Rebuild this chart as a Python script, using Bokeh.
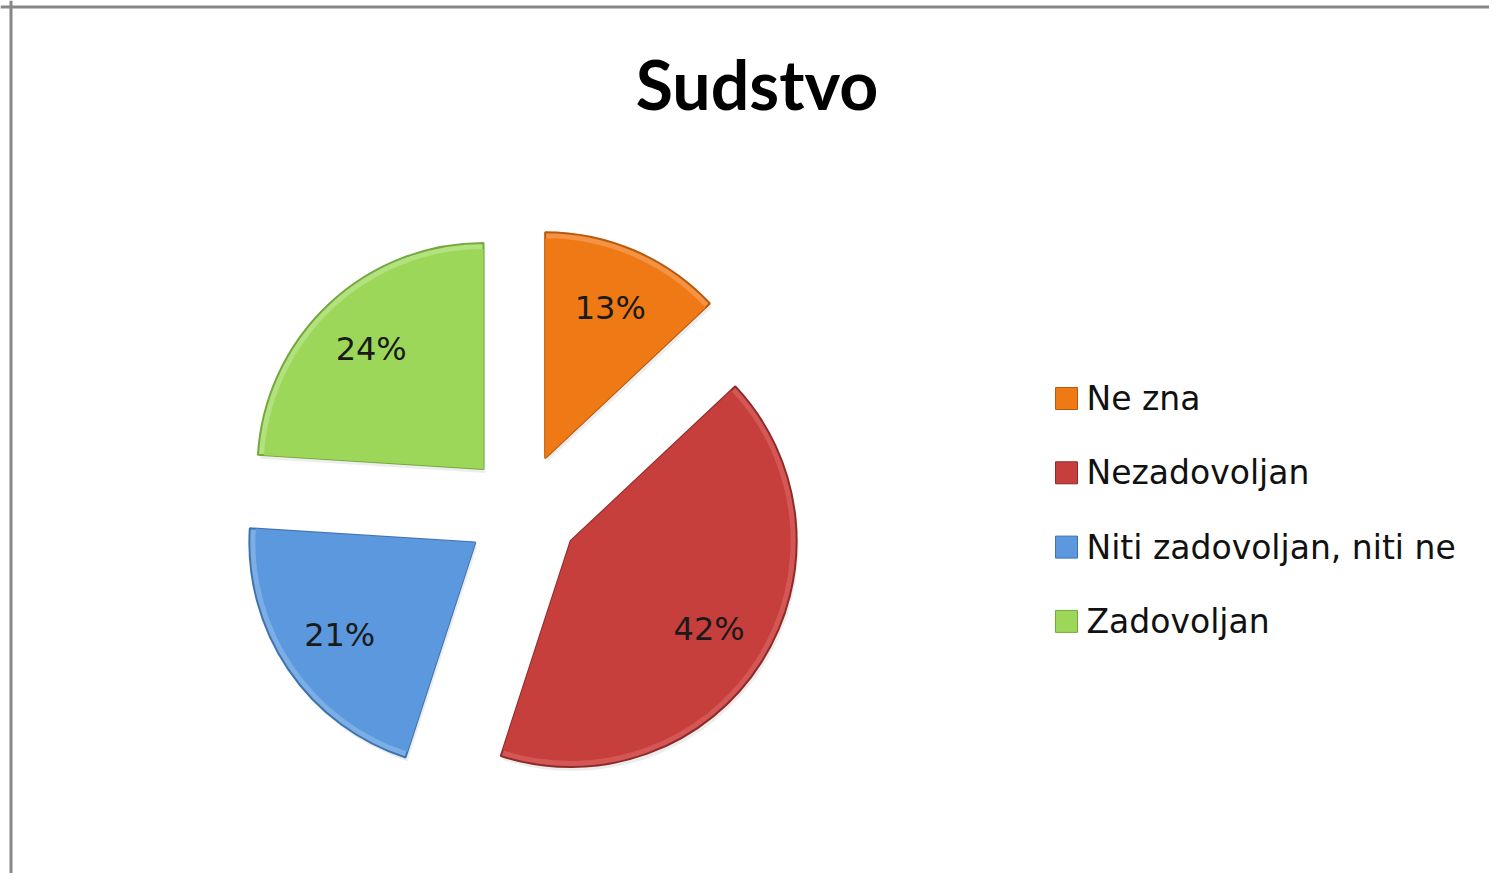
import numpy as np
from bokeh.plotting import figure
from bokeh.models import Range1d, Span, ColumnDataSource
from bokeh.core.properties import value
from bokeh.embed import file_html
from bokeh.resources import INLINE

# ---- data ----
title_text = "Sudstvo"
categories = ["Ne zna", "Nezadovoljan", "Niti zadovoljan, niti ne", "Zadovoljan"]
values = [13, 42, 21, 24]
colors = ["#EF7915", "#C63F3C", "#5B98DD", "#9DD75A"]
edge_colors = ["#B85A0C", "#8E2B29", "#3E73B0", "#72A83C"]
light_colors = ["#F59243", "#D55755", "#7CAEE6", "#B2E17D"]

# ---- layout ----
W, H = 1489, 873
p = figure(width=W, height=H, output_backend="svg", toolbar_location=None,
           x_range=Range1d(0, W), y_range=Range1d(0, H),
           x_axis_type=None, y_axis_type=None, min_border=0)
p.grid.visible = False
p.outline_line_color = None
p.background_fill_color = "white"
p.border_fill_color = "white"

# frame lines (top / left of the chart area)
p.add_layout(Span(location=10.5, dimension="height", line_color="#878787", line_width=3))
p.add_layout(Span(location=H - 6.5, dimension="width", line_color="#878787", line_width=3))

# ---- pie geometry ----
cx, cy = 522.0, 363.0
R = 226.0
explode = 57.0
label_r = 164.0

vals = np.array(values, dtype=float)
frac = vals / vals.sum()
cum = np.concatenate([[0.0], np.cumsum(frac)[:-1]])
end_deg = 90.0 - cum * 360.0
start_deg = end_deg - frac * 360.0
mid = np.deg2rad((start_deg + end_deg) / 2.0)
ox = cx + explode * np.cos(mid)
oy = cy + explode * np.sin(mid)

src = ColumnDataSource(dict(
    x=ox, y=oy, sx=ox + 2, sy=oy - 4,
    start=np.deg2rad(start_deg), end=np.deg2rad(end_deg),
    color=colors, edge=edge_colors, light=light_colors,
    lx=ox + label_r * np.cos(mid), ly=oy + label_r * np.sin(mid),
    lab=[f"{int(v)}%" for v in values],
))

# faint shadow
p.wedge(x="sx", y="sy", radius=R, start_angle="start", end_angle="end",
        direction="anticlock", source=src, fill_color="#000000", fill_alpha=0.07,
        line_color=None)
# body with bevel rim
p.wedge(x="x", y="y", radius=R, start_angle="start", end_angle="end",
        direction="anticlock", source=src, fill_color="light",
        line_color="edge", line_width=2)
p.wedge(x="x", y="y", radius=R - 6, start_angle="start", end_angle="end",
        direction="anticlock", source=src, fill_color="color",
        line_color=None)
p.text(x="lx", y="ly", text="lab", source=src, text_font=value("DejaVu Sans"),
       text_font_size="32px", text_color="#1a1a1a", text_align="center",
       text_baseline="middle")

# ---- title ----
p.text(x=[756.5], y=[H - 83], text=[title_text], text_font=value("Lato"),
       text_font_style="bold", text_font_size="68px", text_color="#000000",
       text_align="center", text_baseline="alphabetic")

# ---- legend ----
n = len(categories)
leg_y = (H - 398) - 74.3 * np.arange(n)
leg = ColumnDataSource(dict(sx=[1066] * n, tx=[1086] * n, y=leg_y,
                            color=colors, edge=edge_colors, name=categories))
p.scatter(x="sx", y="y", marker="square", size=22, source=leg,
          fill_color="color", line_color="edge", line_width=1)
p.text(x="tx", y="y", text="name", source=leg, text_font=value("DejaVu Sans"),
       text_font_size="33px", text_color="#111111", text_align="left",
       text_baseline="middle")

open("out.html", "w").write(file_html(p, INLINE))
